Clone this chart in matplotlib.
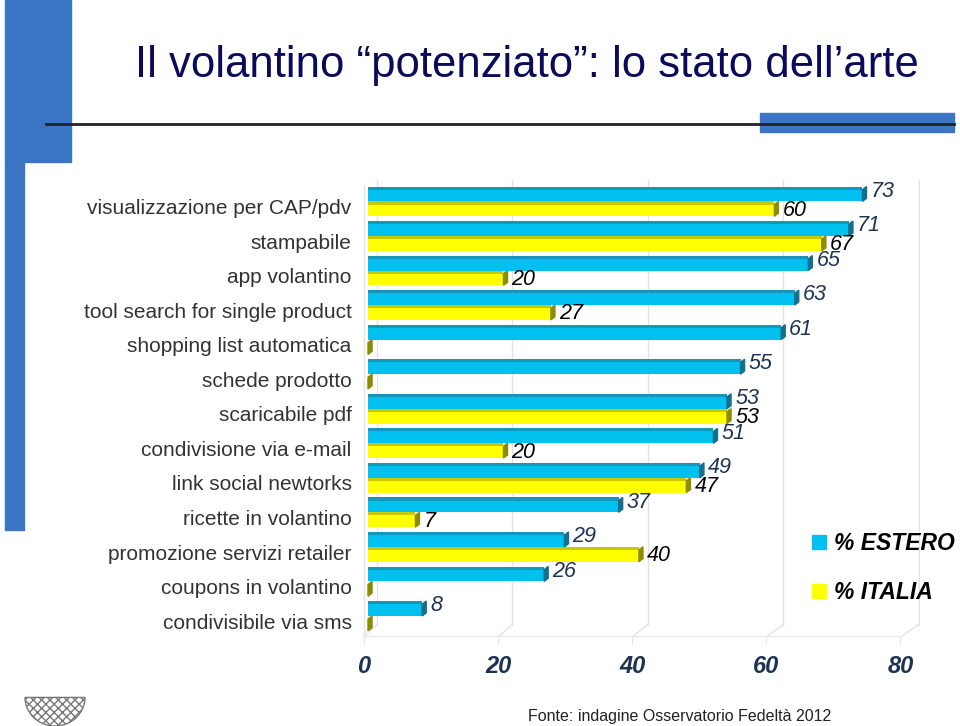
import numpy as np
import matplotlib.pyplot as plt
from matplotlib.patches import Polygon, Rectangle, Wedge

plt.rcParams['font.family'] = ['Liberation Sans', 'DejaVu Sans']

# data
categories = ['visualizzazione per CAP/pdv', 'stampabile', 'app volantino',
              'tool search for single product', 'shopping list automatica',
              'schede prodotto', 'scaricabile pdf', 'condivisione via e-mail',
              'link social newtorks', 'ricette in volantino',
              'promozione servizi retailer', 'coupons in volantino',
              'condivisibile via sms']
estero = [73, 71, 65, 63, 61, 55, 53, 51, 49, 37, 29, 26, 8]
italia = [60, 67, 20, 27, 0, 0, 53, 20, 47, 7, 40, 0, 0]
series_names = ['% ESTERO', '% ITALIA']
xticks = [0, 20, 40, 60, 80]

W, H = 960, 726
deco_blue = '#3a76c4'
sky = '#00c0f0'
sky_top = '#1596bd'
sky_cap = '#146f8c'
yel = '#ffff00'
yel_top = '#c9c900'
yel_cap = '#8c8c00'

fig = plt.figure(figsize=(9.6, 7.26), dpi=100)


def rect(x0, y0, x1, y1, color):
    # pixel box -> figure patch
    fig.patches.append(Rectangle((x0 / W, 1 - y1 / H), (x1 - x0) / W, (y1 - y0) / H,
                                 transform=fig.transFigure, color=color, zorder=0))


# slide decorations
rect(5, 0, 71, 162, deco_blue)
rect(5, 162, 24, 530, deco_blue)
rect(760, 113, 954, 132, deco_blue)
fig.add_artist(plt.Line2D([46 / W, 954 / W], [1 - 124 / H, 1 - 124 / H],
                          color='#222222', lw=2, transform=fig.transFigure))

fig.text(135 / W, 1 - 65 / H, 'Il volantino \u201cpotenziato\u201d: lo stato dell\u2019arte',
         fontsize=31.5, color='#0b0b5c', va='center', ha='left')

# chart
ax = fig.add_axes([360 / W, 1 - 637 / H, 560 / W, 457 / H])
ax.set_xlim(-1.18, 81.5)
ax.set_ylim(12.61, -0.62)
for s in ax.spines.values():
    s.set_visible(False)

y = np.arange(len(categories))
h = 0.43
strip = 0.09
cap = 0.6

# 3d-ish walls and floor
front = [t * 0.99 - 0.6 for t in xticks]
back = [t + 1.3 for t in xticks]
for f, b in zip(front, back):
    ax.plot([b, b], [-0.62, 12.25], color='#e3e3e3', lw=1, zorder=0)
    ax.plot([f, b], [12.61, 12.25], color='#e3e3e3', lw=1, zorder=0)
ax.plot([front[0], front[-1]], [12.6, 12.6], color='#e3e3e3', lw=1.2, zorder=0)
ax.plot([front[0], front[0]], [-0.45, 12.6], color='#e3e3e3', lw=1, zorder=0)

# yellow first (its top strip shows only past the blue bar)
ax.barh(y + h / 2, italia, height=h, color=yel, zorder=2, label=series_names[1])
ax.barh(y + strip / 2, italia, height=strip, color=yel_top, zorder=2)
ax.barh(y - h / 2, estero, height=h, color=sky, zorder=3, label=series_names[0])
ax.barh(y - h + strip / 2, estero, height=strip, color=sky_top, zorder=3)

for i in range(len(categories)):
    for v, top, col, z in [(estero[i], i - h, sky_cap, 4), (italia[i], i, yel_cap, 2.5)]:
        bot = top + h
        ax.add_patch(Polygon([(v, top + strip), (v + cap, top), (v + cap, bot - strip), (v, bot)],
                             closed=True, color=col, zorder=z))
    ax.text(estero[i] + 1.2, i - h / 2 - 0.08, str(estero[i]), fontsize=15.5, style='italic',
            color='#1c3354', va='center', ha='left', zorder=5)
    if italia[i] > 0:
        ax.text(italia[i] + 1.2, i + h / 2 + 0.04, str(italia[i]), fontsize=15.5, style='italic',
                color='black', va='center', ha='left', zorder=5)

ax.set_yticks(y + 0.15)
ax.set_yticklabels(categories, fontsize=15, color='#333333')
ax.tick_params(axis='y', length=0, pad=6)
ax.set_xticks(front)
ax.set_xticklabels([str(t) for t in xticks], fontsize=17, fontweight='bold',
                   style='italic', color='#1c3354')
ax.tick_params(axis='x', length=5, color='#e3e3e3', pad=8)

# legend
handles = [Rectangle((0, 0), 1, 1, color=sky), Rectangle((0, 0), 1, 1, color=yel)]
fig.legend(handles, series_names, loc='upper left', bbox_to_anchor=(805 / W, 1 - 525 / H),
           frameon=False, prop={'size': 16.5, 'weight': 'bold', 'style': 'italic'},
           handlelength=0.6, handleheight=0.6, handletextpad=0.35, labelspacing=1.15,
           borderaxespad=0, borderpad=0.3)

fig.text(528 / W, 1 - 716 / H, 'Fonte: indagine Osservatorio Fedelt\u00e0 2012',
         fontsize=11.5, color='#222222', va='center', ha='left')

# small emblem bottom-left
lax = fig.add_axes([22 / W, 0, 66 / W, 30 / H])
lax.set_xlim(-1.1, 1.1)
lax.set_ylim(-1.0, 0.05)
lax.axis('off')
lax.add_patch(Wedge((0, 0), 1.0, 180, 360, facecolor='white', edgecolor='#777777',
                    hatch='xxxx', lw=1))

fig.savefig('out.png', dpi=100)
